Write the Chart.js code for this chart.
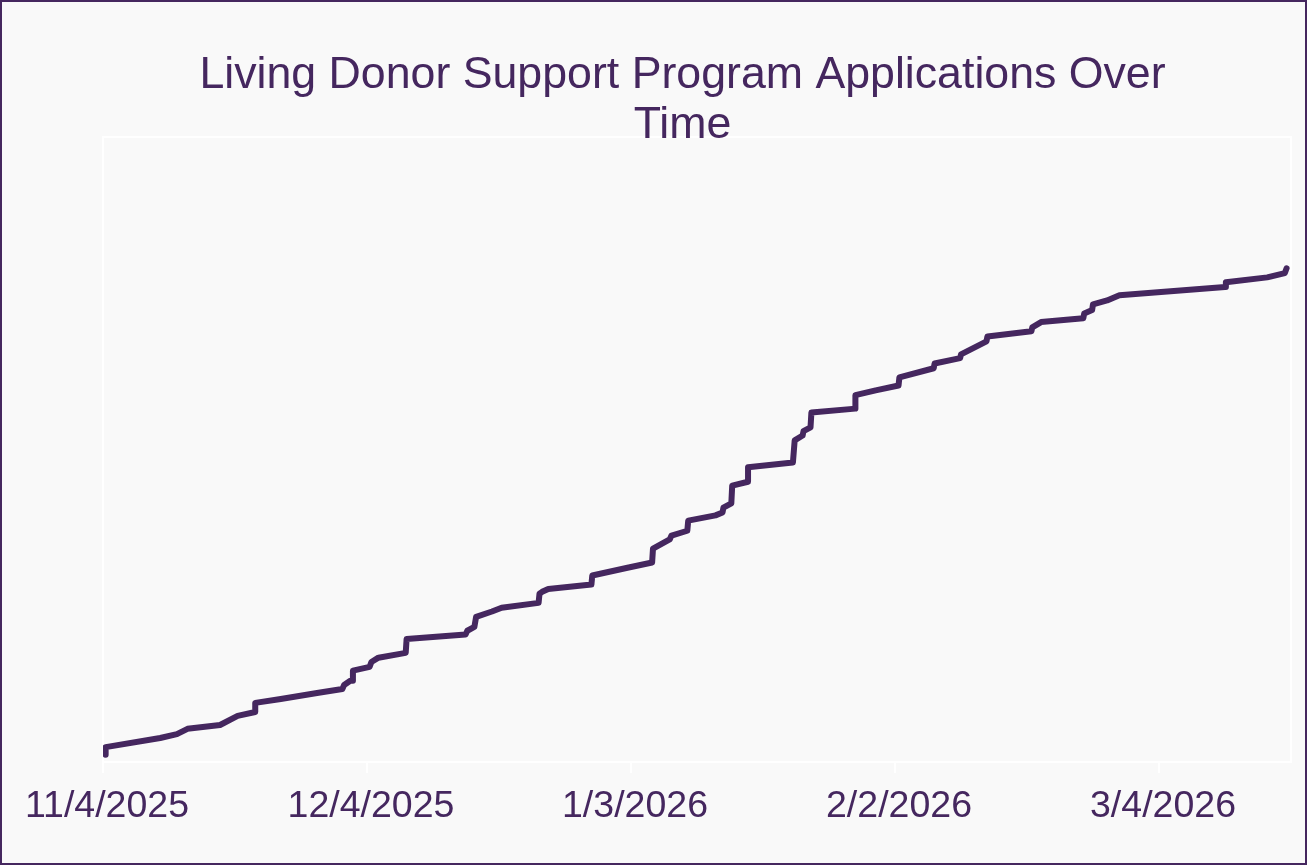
<!DOCTYPE html>
<html>
<head>
<meta charset="utf-8">
<script src="https://cdn.jsdelivr.net/npm/chart.js@4/dist/chart.umd.min.js"></script>
<style>
	html, body { margin: 0; padding: 0; background: #f9f9f9; }
	#frame {
		position: relative;
		width: 1307px;
		height: 865px;
		box-sizing: border-box;
		border: 2px solid #45275f;
		background: #f9f9f9;
	}
	#holder { position: relative; width: 1303px; height: 861px; }
</style>
</head>
<body>
<div id="frame"><div id="holder"><canvas id="appChart"></canvas></div></div>
<script>
// days since 11/4/2025
const appDays = [
	0.3, 0.3, 6.5, 8.4, 9.6, 13.3, 15.3, 17.3, 17.3, 20.2,
	24.5, 27.2, 27.4, 28.1, 28.4, 28.4, 30.3, 30.5, 31.3, 34.4,
	34.5, 41.2, 41.4, 42.2, 42.4, 44.2, 45.3, 49.5, 49.6, 49.9,
	50.6, 55.5, 55.6, 59.6, 62.4, 62.5, 64.4, 64.6, 66.4, 66.5,
	69.6, 70.4, 70.5, 71.4, 71.5, 73.3, 73.3, 78.4, 78.6, 79.5,
	79.6, 80.4, 80.5, 85.5, 85.5, 87.8, 90.4, 90.5, 94.4, 94.5,
	97.4, 97.5, 100.4, 100.5, 105.5, 105.6, 106.6, 111.4, 111.5, 112.4,
	112.5, 114.1, 115.5, 127.5, 127.6, 132.3, 134.3, 134.5
];
// cumulative applications
const appCounts = [
	1.5, 3.1, 5.0, 5.8, 6.9, 7.7, 9.6, 10.4, 12.3, 13.1,
	14.4, 15.2, 16.0, 16.9, 16.9, 19.0, 19.8, 20.8, 21.7, 22.7,
	25.6, 26.5, 27.3, 28.1, 30.2, 31.3, 32.1, 33.1, 35.0, 35.4,
	36.0, 36.9, 38.8, 40.4, 41.5, 44.4, 46.3, 47.1, 48.1, 50.2,
	51.3, 51.9, 52.9, 53.8, 57.5, 58.3, 61.3, 62.3, 66.9, 67.9,
	68.8, 69.6, 72.7, 73.5, 76.3, 77.3, 78.3, 80.0, 81.9, 82.9,
	84.0, 84.8, 87.5, 88.5, 89.6, 90.4, 91.5, 92.3, 93.3, 94.0,
	95.2, 96.0, 97.1, 98.8, 99.8, 100.8, 101.7, 102.7
];
const tickDays = [0, 30, 60, 90, 120];
const tickLabels = ['11/4/2025', '12/4/2025', '1/3/2026', '2/2/2026', '3/4/2026'];
const titleLines = ['Living Donor Support Program Applications Over', 'Time'];

const PURPLE = '#45275f';
const FONT = '"Liberation Sans", Arial, sans-serif';

// white frame round the plot area
const plotFrame = {
	id: 'plotFrame',
	beforeDatasetsDraw(chart) {
		const a = chart.chartArea;
		const c = chart.ctx;
		c.save();
		c.strokeStyle = '#ffffff';
		c.lineWidth = 2;
		c.strokeRect(a.left, a.top, a.right - a.left, a.bottom - a.top);
		c.restore();
	}
};

// two-line title, centred a bit left of the plot centre like the original
const wideTitle = {
	id: 'wideTitle',
	afterDraw(chart) {
		const c = chart.ctx;
		c.save();
		c.fillStyle = PURPLE;
		c.font = '44.7px ' + FONT;
		c.textAlign = 'center';
		c.textBaseline = 'alphabetic';
		titleLines.forEach((line, i) => {
			c.fillText(line, 680.5, 86.3 + i * 50);
		});
		c.restore();
	}
};

const ctx = document.getElementById('appChart').getContext('2d');
const appChart = new Chart(ctx, {
	type: 'line',
	data: {
		datasets: [{
			label: 'Applications',
			data: appDays.map((d, i) => ({ x: d, y: appCounts[i] })),
			borderColor: PURPLE,
			borderWidth: 6,
			pointRadius: 0,
			tension: 0,
			borderCapStyle: 'round',
			borderJoinStyle: 'round',
			fill: false
		}]
	},
	options: {
		responsive: true,
		maintainAspectRatio: false,
		animation: false,
		layout: {
			padding: { left: 101, right: 14, top: 135, bottom: 23 }
		},
		scales: {
			x: {
				type: 'linear',
				min: 0,
				max: 135,
				afterBuildTicks: (scale) => {
					scale.ticks = tickDays.map(v => ({ value: v }));
				},
				ticks: {
					color: PURPLE,
					padding: 11,
					labelOffset: 4,
					maxRotation: 0,
					autoSkip: false,
					font: { family: FONT, size: 37.5 },
					callback: (value) => tickLabels[tickDays.indexOf(value)]
				},
				grid: {
					drawOnChartArea: false,
					color: '#ffffff',
					lineWidth: 2,
					tickLength: 11
				},
				border: { display: true, color: '#ffffff', width: 2 }
			},
			y: {
				display: false,
				min: 0,
				max: 130
			}
		},
		plugins: {
			legend: { display: false },
			tooltip: { enabled: false },
			title: { display: false }
		}
	},
	plugins: [plotFrame, wideTitle]
});
</script>
</body>
</html>
